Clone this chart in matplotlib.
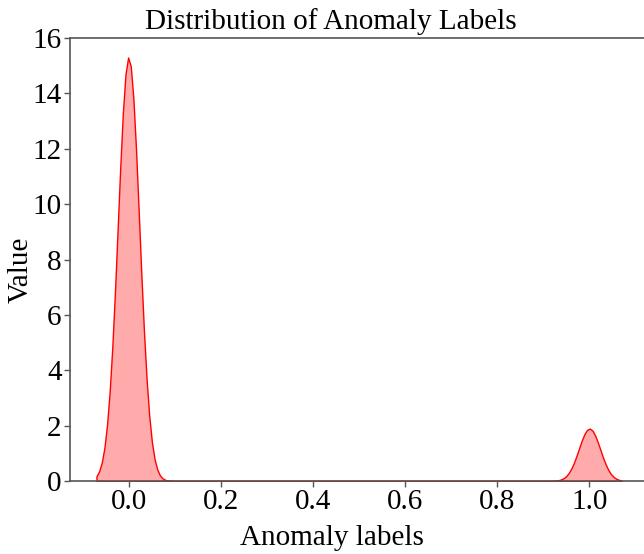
import numpy as np
import matplotlib
matplotlib.use("Agg")
import matplotlib.pyplot as plt
import seaborn as sns

# Data: anomaly labels and how many samples carry each label
labels = [0.0, 1.0]
counts = [396000, 49000]
bw_factor = 0.0328

title = "Distribution of Anomaly Labels"
xlabel = "Anomaly labels"
ylabel = "Value"
xticks = [0.0, 0.2, 0.4, 0.6, 0.8, 1.0]
yticks = [0, 2, 4, 6, 8, 10, 12, 14, 16]

plt.rcParams['font.family'] = ['Liberation Serif', 'DejaVu Serif']
FS = 21

fig = plt.figure(figsize=(6.44, 5.54), dpi=100)
ax = fig.add_axes([70/644, 1-481/554, (648-70)/644, (481-38)/554])

sns.kdeplot(x=labels, weights=counts, bw_method=bw_factor, fill=True,
            color="red", alpha=0.33, linewidth=1.0, ax=ax)

ax.set_xticks(xticks)
ax.set_xticklabels([f"{t:.1f}" for t in xticks])
ax.set_yticks(yticks)
ax.set_ylim(0, 16)
ax.set_xlim(-0.127, 1.127)
ax.set_title(title, fontsize=FS, pad=6.5, x=0.452)
ax.set_xlabel(xlabel, fontsize=FS)
ax.xaxis.set_label_coords(0.453, -0.099)
ax.set_ylabel(ylabel, fontsize=FS)
ax.yaxis.set_label_coords(-0.062, 0.476)
for s in ["left", "bottom", "top"]:
    ax.spines[s].set_color("#555555")
    ax.spines[s].set_linewidth(1.2)
ax.spines["right"].set_visible(False)
ax.tick_params(colors="#555555", labelcolor="black", labelsize=FS,
               length=4, width=1, pad=2)

fig.savefig("out.png", dpi=100)
